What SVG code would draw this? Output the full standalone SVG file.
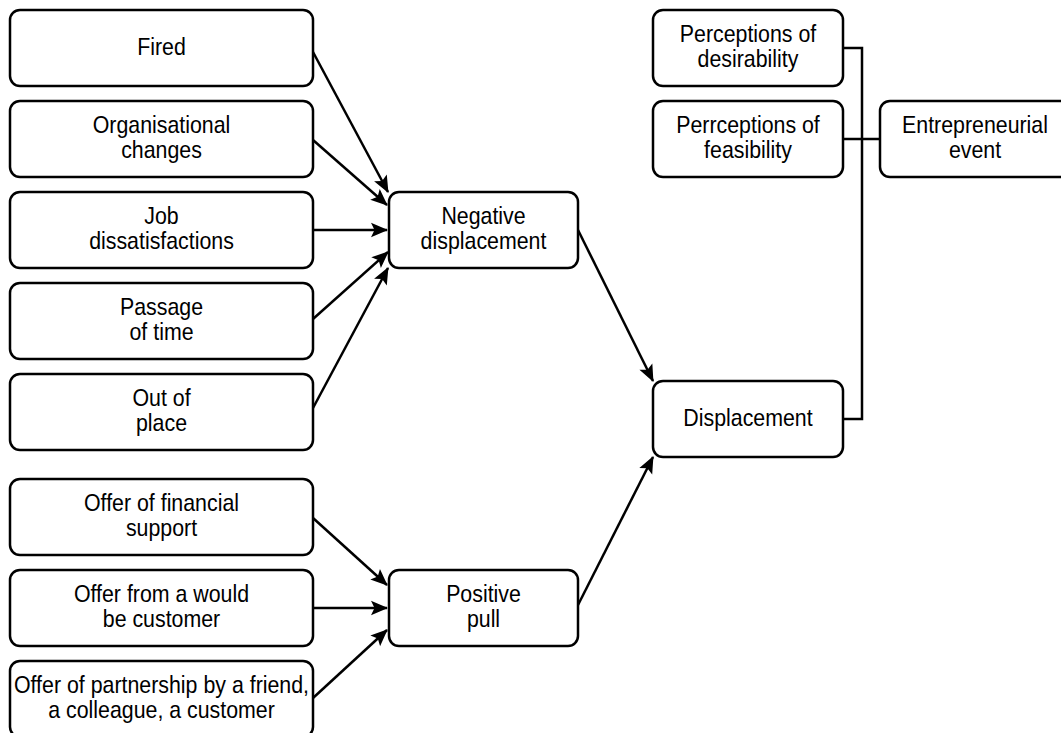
<svg xmlns="http://www.w3.org/2000/svg" width="1061" height="733" viewBox="0 0 1061 733">
<style>
.b{fill:#fff;stroke:#000;stroke-width:2.5}
.t{font-family:"Liberation Sans",Arial,sans-serif;font-size:24px;text-anchor:middle;fill:#000}
.c{fill:none;stroke:#000;stroke-width:2.5}
.a{marker-end:url(#ah)}
</style>
<defs>
<marker id="ah" markerUnits="userSpaceOnUse" viewBox="-19 -9 21 18" markerWidth="21" markerHeight="18" refX="0" refY="0" orient="auto">
<path d="M1,0 L-16,-7.2 L-12.5,0 L-16,7.2 Z" fill="#000"/>
</marker>
</defs>
<rect width="1061" height="733" fill="#fff"/>
<g id="connectors">
<line class="c a" x1="313" y1="52" x2="388" y2="192"/>
<line class="c a" x1="313" y1="140" x2="387" y2="205"/>
<line class="c a" x1="313" y1="230" x2="387" y2="230"/>
<line class="c a" x1="313" y1="319" x2="388" y2="252"/>
<line class="c a" x1="313" y1="408" x2="388" y2="268"/>
<line class="c a" x1="578" y1="230" x2="653" y2="381"/>
<line class="c a" x1="578" y1="605" x2="653" y2="457"/>
<line class="c a" x1="313" y1="518" x2="387" y2="585"/>
<line class="c a" x1="313" y1="608" x2="387" y2="608"/>
<line class="c a" x1="313" y1="698" x2="387" y2="630"/>
<path class="c" d="M843,48 H862 V419 H843"/>
<path class="c" d="M843,139 H880"/>
</g>
<g id="n-fired"><rect class="b" x="10" y="10" width="303" height="76" rx="10"/>
<text class="t" transform="translate(161.5 0) scale(0.89 1)"><tspan x="0" y="55">Fired</tspan></text></g>
<g id="n-org"><rect class="b" x="10" y="101" width="303" height="76" rx="10"/>
<text class="t" transform="translate(161.5 0) scale(0.89 1)"><tspan x="0" y="133">Organisational</tspan><tspan x="0" y="158">changes</tspan></text></g>
<g id="n-job"><rect class="b" x="10" y="192" width="303" height="76" rx="10"/>
<text class="t" transform="translate(161.5 0) scale(0.89 1)"><tspan x="0" y="224">Job</tspan><tspan x="0" y="249">dissatisfactions</tspan></text></g>
<g id="n-passage"><rect class="b" x="10" y="283" width="303" height="76" rx="10"/>
<text class="t" transform="translate(161.5 0) scale(0.89 1)"><tspan x="0" y="315">Passage</tspan><tspan x="0" y="340">of time</tspan></text></g>
<g id="n-out"><rect class="b" x="10" y="374" width="303" height="76" rx="10"/>
<text class="t" transform="translate(161.5 0) scale(0.89 1)"><tspan x="0" y="406">Out of</tspan><tspan x="0" y="431">place</tspan></text></g>
<g id="n-fin"><rect class="b" x="10" y="479" width="303" height="76" rx="10"/>
<text class="t" transform="translate(161.5 0) scale(0.89 1)"><tspan x="0" y="511">Offer of financial</tspan><tspan x="0" y="536">support</tspan></text></g>
<g id="n-from"><rect class="b" x="10" y="570" width="303" height="76" rx="10"/>
<text class="t" transform="translate(161.5 0) scale(0.89 1)"><tspan x="0" y="602">Offer from a would</tspan><tspan x="0" y="627">be customer</tspan></text></g>
<g id="n-partner"><rect class="b" x="10" y="661" width="303" height="76" rx="10"/>
<text class="t" transform="translate(161.5 0) scale(0.89 1)"><tspan x="0" y="693">Offer of partnership by a friend,</tspan><tspan x="0" y="718">a colleague, a customer</tspan></text></g>
<g id="n-neg"><rect class="b" x="389" y="192" width="189" height="76" rx="10"/>
<text class="t" transform="translate(483.5 0) scale(0.89 1)"><tspan x="0" y="224">Negative</tspan><tspan x="0" y="249">displacement</tspan></text></g>
<g id="n-pos"><rect class="b" x="389" y="570" width="189" height="76" rx="10"/>
<text class="t" transform="translate(483.5 0) scale(0.89 1)"><tspan x="0" y="602">Positive</tspan><tspan x="0" y="627">pull</tspan></text></g>
<g id="n-disp"><rect class="b" x="653" y="381" width="190" height="76" rx="10"/>
<text class="t" transform="translate(748 0) scale(0.89 1)"><tspan x="0" y="426">Displacement</tspan></text></g>
<g id="n-desir"><rect class="b" x="653" y="10" width="190" height="76" rx="10"/>
<text class="t" transform="translate(748 0) scale(0.89 1)"><tspan x="0" y="42">Perceptions of</tspan><tspan x="0" y="67">desirability</tspan></text></g>
<g id="n-feas"><rect class="b" x="653" y="101" width="190" height="76" rx="10"/>
<text class="t" transform="translate(748 0) scale(0.89 1)"><tspan x="0" y="133">Perrceptions of</tspan><tspan x="0" y="158">feasibility</tspan></text></g>
<g id="n-event"><rect class="b" x="880" y="101" width="190" height="76" rx="10"/>
<text class="t" transform="translate(975 0) scale(0.89 1)"><tspan x="0" y="133">Entrepreneurial</tspan><tspan x="0" y="158">event</tspan></text></g>
</svg>
